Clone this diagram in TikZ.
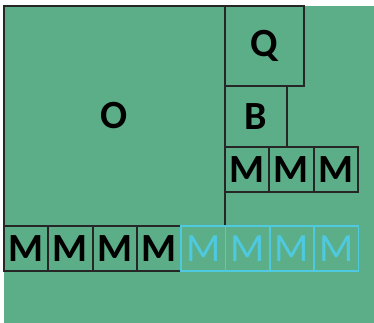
\documentclass[tikz,border=0pt]{standalone}
\usepackage{fontspec}
\setmainfont{Carlito}
\usepackage{tikz}
\usetikzlibrary{positioning}
\usepackage{xcolor}

\definecolor{bggreen}{HTML}{5BAE87}
\definecolor{ghostcyan}{HTML}{4FC9E0}

\tikzset{
    box/.style={draw=black!85, line width=2pt, inner sep=0pt, font=\fontsize{40}{44}\selectfont\bfseries},
    cell/.style={box, minimum width=44.25pt, minimum height=45pt},
    ghost/.style={cell, draw=ghostcyan, line width=1.5pt, text=ghostcyan, font=\fontsize{40}{44}\selectfont}
}

\begin{document}
\begin{tikzpicture}[x=1pt, y=-1pt]
    \useasboundingbox (0, 0) rectangle (374, 323);
    % background
    \fill[bggreen] (4, 6) rectangle (374, 323);

    % 1. big block and the two on its right
    \node[box, minimum width=221pt, minimum height=220pt] (obig) at (114.5, 116) {O};
    \node[box, minimum width=79pt, minimum height=80pt] (qbox) at (264.5, 46) {Q};
    \node[box, minimum width=62pt, minimum height=61pt] (bbox) at (256, 116.5) {B};

    % 2. short row under B
    \foreach \i in {0,1,2} {
        \node[cell] (mtop\i) at (247.1 + 44.3*\i, 169.5) {M};
    }

    % 3. bottom row, last four faded
    \foreach \i in {0,...,3} {
        \node[cell] (mlow\i) at (26.1 + 44.3*\i, 248.5) {M};
    }
    \foreach \i in {4,...,7} {
        \node[ghost] (mlow\i) at (26.1 + 44.3*\i, 248.5) {M};
    }
\end{tikzpicture}
\end{document}
